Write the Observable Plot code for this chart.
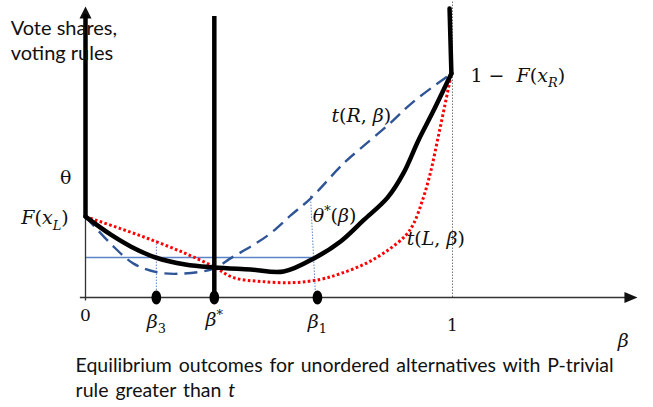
<!DOCTYPE html>
<html><head><meta charset="utf-8">
<script src="https://cdn.jsdelivr.net/npm/d3@7"></script>
<script src="https://cdn.jsdelivr.net/npm/@observablehq/plot@0.6"></script>
<style>html,body{margin:0;padding:0;background:#fff}svg{display:block}</style>
</head><body><div id="chart"></div>
<script>
// ---- data (β, vote share / voting rule) ----
const thetaStar = [[0,0.277],[0.068,0.216],[0.123,0.175],[0.191,0.137],[0.272,0.113],[0.351,0.103],[0.45,0.096],[0.54,0.089],[0.627,0.137],[0.695,0.192],[0.757,0.264],[0.823,0.342],[0.866,0.425],[0.907,0.538],[0.946,0.634],[0.997,0.767]];
const thetaStarTop = [[0.997,0.767],[0.992,0.99]];
const tR = [[0,0.277],[0.068,0.185],[0.131,0.116],[0.196,0.086],[0.267,0.082],[0.349,0.099],[0.395,0.134],[0.496,0.212],[0.559,0.281],[0.613,0.339],[0.703,0.459],[0.749,0.51],[0.823,0.589],[0.894,0.671],[0.997,0.767]];
const tL = [[0,0.277],[0.095,0.236],[0.185,0.195],[0.272,0.151],[0.349,0.106],[0.403,0.068],[0.477,0.055],[0.567,0.051],[0.64,0.062],[0.695,0.082],[0.763,0.116],[0.823,0.161],[0.872,0.212],[0.894,0.253],[0.918,0.332],[0.94,0.428],[0.959,0.538],[0.978,0.651],[0.997,0.767]];
const F_xL = 0.277;
const axisTop = 0.962;
const thetaLevel = 0.137;
const beta3 = 0.193, betaStar = 0.351, beta1 = 0.632;
const beta3Top = 0.195, beta1Top = 0.349;
const tickValues = [0, beta3, betaStar, beta1, 1];
const tickLabels = ["0", "β_3", "β^*", "β_1", "1"];
const yLabelLines = ["Vote shares,", "voting rules"];
const captionLines = ["Equilibrium outcomes for unordered alternatives with P-trivial", "rule greater than ~t~"];

// ---- custom symbols ----
const ellipseSym = {draw(ctx){const rx=4.8, ry=7, k=0.5523;
  ctx.moveTo(rx,0);
  ctx.bezierCurveTo(rx,ry*k,rx*k,ry,0,ry);
  ctx.bezierCurveTo(-rx*k,ry,-rx,ry*k,-rx,0);
  ctx.bezierCurveTo(-rx,-ry*k,-rx*k,-ry,0,-ry);
  ctx.bezierCurveTo(rx*k,-ry,rx,-ry*k,rx,0); ctx.closePath();}};
const arrowUp = {draw(ctx){ctx.moveTo(0,0);ctx.lineTo(6,12);ctx.lineTo(-6,12);ctx.closePath();}};
const arrowRight = {draw(ctx){ctx.moveTo(0,0);ctx.lineTo(-13,-5.5);ctx.lineTo(-13,5.5);ctx.closePath();}};

const MATH = "'DejaVu Serif', 'Liberation Serif', serif";
const SANS = "Lato, 'Open Sans', sans-serif";
const M = "§"; // marker for rich math text

const mathLabel = (s, x, y, anchor, fs) => Plot.text([M + s], {x: () => x, y: () => y, text: d => d, textAnchor: anchor, fontSize: fs, fontFamily: MATH, fill: "#111"});
const tickDy = [18, 24, 22, 24, 28];

const chart = Plot.plot({
  width: 653, height: 407, margin: 0,
  x: {domain: [0, 1], range: [85, 452], axis: null},
  y: {domain: [0, 1], range: [297, 5], axis: null},
  style: {background: "#fff", overflow: "visible"},
  marks: [
    // guide lines
    Plot.ruleX([1], {y1: 0, y2: 1.017, stroke: "#777", strokeWidth: 1, strokeDasharray: "1.5,1.5"}),
    Plot.ruleY([thetaLevel], {x1: 0, x2: beta1 - 0.01, stroke: "#5b84c8", strokeWidth: 1.3}),
    Plot.line([[beta3, beta3Top],[beta3, 0]], {x: d => d[0], y: d => d[1], stroke: "#5b84c8", strokeWidth: 1, strokeDasharray: "1.5,1.5", strokeLinecap: "butt"}),
    Plot.line([[beta1 - 0.019, beta1Top],[beta1 - 0.005, 0]], {x: d => d[0], y: d => d[1], stroke: "#5b84c8", strokeWidth: 1, strokeDasharray: "1.5,1.5", strokeLinecap: "butt"}),
    // axes
    Plot.ruleY([0], {x1: -0.014, x2: 1.49, stroke: "#333", strokeWidth: 1.3}),
    Plot.dot([0], {x: () => 1.504, y: 0, symbol: arrowRight, fill: "#111", stroke: "none"}),
    Plot.ruleX([0], {y1: -0.012, y2: 0.97, stroke: "#333", strokeWidth: 1.3}),
    Plot.dot([0], {x: 0, y: () => 0.9966, symbol: arrowUp, fill: "#111", stroke: "none"}),
    // curves
    Plot.line(tL, {x: d => d[0], y: d => d[1], curve: "catmull-rom", stroke: "#ff0000", strokeWidth: 3, strokeDasharray: "2.6,2.4", strokeLinecap: "butt"}),
    Plot.line(tR, {x: d => d[0], y: d => d[1], curve: "catmull-rom", stroke: "#2f5597", strokeWidth: 2.4, strokeDasharray: "13,7", strokeLinecap: "butt"}),
    Plot.line(thetaStar, {x: d => d[0], y: d => d[1], curve: "catmull-rom", stroke: "#000", strokeWidth: 4.5, strokeLinecap: "round"}),
    Plot.line(thetaStarTop, {x: d => d[0], y: d => d[1], stroke: "#000", strokeWidth: 4.5, strokeLinecap: "round"}),
    Plot.ruleX([0], {y1: F_xL, y2: axisTop, stroke: "#000", strokeWidth: 4.5, strokeLinecap: "round"}),
    Plot.ruleX([betaStar], {y1: 0, y2: axisTop, stroke: "#000", strokeWidth: 4.5}),
    // points on β axis
    Plot.dot([beta3, betaStar, beta1], {x: d => d, y: () => 0, symbol: ellipseSym, fill: "#000", stroke: "none"}),
    // tick labels
    ...tickLabels.map((t, i) => Plot.text([M + t], {x: () => tickValues[i], y: () => 0, text: d => d, dy: tickDy[i], fontSize: i === 0 || i === 4 ? 17 : 19, fontFamily: MATH, fill: "#111"})),
    mathLabel("β", 1.465, -0.15, "middle", 19),
    // curve labels
    Plot.text(["θ"], {x: () => -0.054, y: () => 0.411, text: d => d, fontSize: 19, fontFamily: MATH, fill: "#111"}),
    mathLabel("F(x_L)", -0.046, 0.271, "end", 19),
    mathLabel("1 −  F(x_R)", 1.049, 0.76, "start", 19),
    mathLabel("t(R, β)", 0.67, 0.623, "start", 19),
    mathLabel("θ^*(β)", 0.619, 0.281, "start", 19),
    mathLabel("t(L, β)", 0.875, 0.202, "start", 19),
    // y label
    Plot.text(yLabelLines, {x: () => -0.204, y: (d, i) => [0.92, 0.835][i], text: d => d, textAnchor: "start", fontSize: 20, fontFamily: SANS, fill: "#111"}),
    // caption
    Plot.text(captionLines, {x: () => -0.027, y: (d, i) => [-0.233, -0.32][i], text: d => d, textAnchor: "start", fontSize: 19.5, fontFamily: SANS, fill: "#111"})
  ]
});
document.getElementById("chart").append(chart);

// ---- rich text: subscripts, superscripts, italics ----
function richify(el, s, fs, autoItalic) {
  const tokens = [];
  let italicMode = false;
  for (let i = 0; i < s.length; i++) {
    const c = s[i];
    if (c === "~") { italicMode = !italicMode; continue; }
    if ((c === "_" || c === "^") && i + 1 < s.length) {
      tokens.push({ch: s[i + 1], kind: c === "_" ? "sub" : "sup", it: italicMode});
      i++; continue;
    }
    tokens.push({ch: c, kind: "n", it: italicMode});
  }
  const isLetter = ch => /[A-Za-zα-ωΑ-Ωθβ]/.test(ch);
  const groups = [];
  for (const t of tokens) {
    const it = autoItalic ? isLetter(t.ch) : t.it;
    const last = groups[groups.length - 1];
    if (last && last.kind === t.kind && last.it === it) last.s += t.ch;
    else groups.push({s: t.ch, kind: t.kind, it});
  }
  const node = d3.select(el);
  node.text(null);
  const off = {n: 0, sub: 0.28 * fs, sup: -0.36 * fs};
  let cur = 0;
  for (const g of groups) {
    const ts = node.append("tspan").text(g.s).attr("font-style", g.it ? "italic" : "normal");
    if (g.kind !== "n") ts.attr("font-size", (0.68 * fs).toFixed(1));
    const dy = off[g.kind] - cur;
    if (dy) ts.attr("dy", dy.toFixed(2));
    cur = off[g.kind];
  }
}
const capEls = [];
d3.select(chart).selectAll("text").each(function() {
  const s = this.textContent;
  const fs = parseFloat(getComputedStyle(this).fontSize) || 19;
  if (s.startsWith(M)) richify(this, s.slice(1), fs, true);
  else if (captionLines.includes(s)) capEls.push(this);
});
// caption: widen word spacing like the justified reference text
if (capEls.length) {
  const first = capEls[0];
  const natural = first.getComputedTextLength();
  const spaces = (first.textContent.match(/ /g) || []).length;
  const ws = Math.max(0, (538 - natural) / spaces);
  for (const el of capEls) el.style.wordSpacing = ws.toFixed(2) + "px";
  for (const el of capEls) if (el.textContent.includes("~")) richify(el, el.textContent, 19.5, false);
}
</script>
</body></html>
